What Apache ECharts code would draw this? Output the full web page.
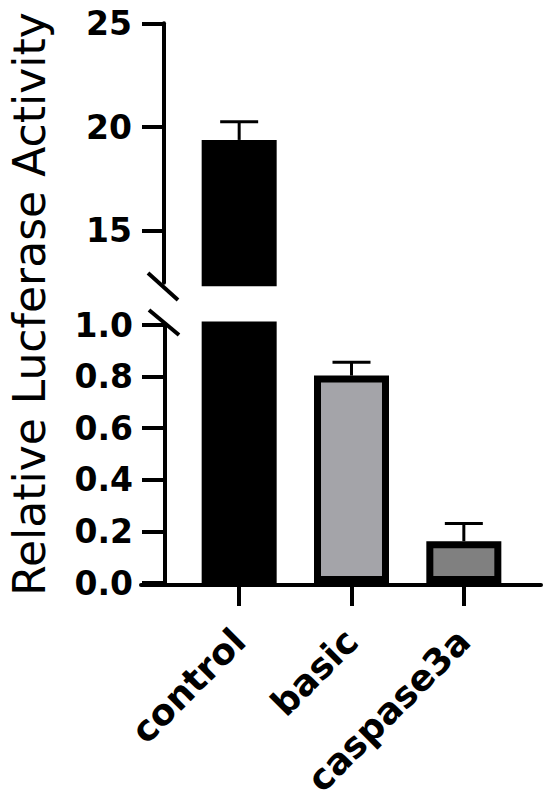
<!DOCTYPE html>
<html>
<head>
<meta charset="utf-8">
<script src="https://cdn.jsdelivr.net/npm/echarts@6/dist/echarts.min.js"></script>
<style>html,body{margin:0;padding:0;background:#fff}#c{width:550px;height:800px}</style>
</head>
<body>
<div id="c"></div>
<script>
const categories = ['control', 'basic', 'caspase3a'];
const means = [19.38, 0.804, 0.162];
const errors = [0.88, 0.052, 0.069];
const barColors = ['#000000', '#a4a4a9', '#808080'];
const topTicks = [15, 20, 25];
const topRange = [12.5, 25];
const bottomRange = [0, 1.0];
const yTitle = 'Relative Lucferase Activity';

const chart = echarts.init(document.getElementById('c'), null, {renderer: 'svg'});
const FONT = 'DejaVu Sans';
const G = {left: 183, width: 337};

const barData = means.map((v, i) => ({value: v, itemStyle: {color: barColors[i]}}));
const errData = means.map((v, i) => [i, v, v + errors[i]]);
const topErr = errData.filter(d => d[1] > topRange[0]);
const botErr = errData.filter(d => d[1] <= bottomRange[1]);

function renderErr(params, api) {
  const x = api.value(0), lo = api.value(1), hi = api.value(2);
  const p0 = api.coord([x, lo]);
  const p1 = api.coord([x, hi]);
  const st = {stroke: '#000', lineWidth: 3};
  return {type: 'group', children: [
    {type: 'line', shape: {x1: p0[0], y1: p0[1], x2: p1[0], y2: p1[1]}, style: st},
    {type: 'line', shape: {x1: p1[0] - 19, y1: p1[1], x2: p1[0] + 19, y2: p1[1]}, style: st}
  ]};
}

const yLabel = {fontFamily: FONT, fontWeight: 'bold', fontSize: 33, color: '#000', margin: 32};
const axisLineStyle = {color: '#000', width: 4};

chart.setOption({
  animation: false,
  backgroundColor: '#fff',
  grid: [
    {left: G.left, width: G.width, top: 23.3, height: 259.4},
    {left: G.left, width: G.width, top: 325, height: 260},
    {left: 141, width: 400, top: 584, height: 1}
  ],
  xAxis: [
    {gridIndex: 0, type: 'category', data: categories, show: false},
    {gridIndex: 1, type: 'category', data: categories,
      axisLine: {show: false},
      axisTick: {show: true, alignWithLabel: true, length: 23, lineStyle: {color: '#000', width: 4}},
      axisLabel: {rotate: 45, interval: 0, fontFamily: FONT, fontWeight: 'bold', fontSize: 36, color: '#000', margin: 52}
    },
    {gridIndex: 2, type: 'value', min: 0, max: 1,
      axisLine: {show: true, lineStyle: axisLineStyle},
      axisTick: {show: false}, axisLabel: {show: false}, splitLine: {show: false}}
  ],
  yAxis: [
    {gridIndex: 0, type: 'value', min: topRange[0], max: topRange[1], offset: 19,
      axisLine: {show: true, lineStyle: axisLineStyle},
      axisTick: {show: true, length: 22, lineStyle: {color: '#000', width: 4}, customValues: topTicks},
      axisLabel: Object.assign({customValues: topTicks}, yLabel),
      splitLine: {show: false}},
    {gridIndex: 1, type: 'value', min: bottomRange[0], max: bottomRange[1], interval: 0.2, offset: 18,
      axisLine: {show: true, lineStyle: axisLineStyle},
      axisTick: {show: true, length: 23, lineStyle: {color: '#000', width: 4}},
      axisLabel: Object.assign({formatter: v => v.toFixed(1)}, yLabel),
      splitLine: {show: false}},
    {gridIndex: 2, type: 'value', show: false}
  ],
  series: [
    {type: 'custom', xAxisIndex: 0, yAxisIndex: 0, renderItem: renderErr, data: topErr, z: 1},
    {type: 'custom', xAxisIndex: 1, yAxisIndex: 1, renderItem: renderErr, data: botErr, z: 1},
    {type: 'bar', xAxisIndex: 0, yAxisIndex: 0, data: barData.map(d => d.value > topRange[0] ? d : '-'),
      barWidth: 75, clip: true, z: 3, itemStyle: {borderColor: '#000', borderWidth: 7}},
    {type: 'bar', xAxisIndex: 1, yAxisIndex: 1, data: barData,
      barWidth: 75, clip: true, z: 3, itemStyle: {borderColor: '#000', borderWidth: 7}}
  ],
  graphic: [
    {type: 'text', x: 29, y: 304, z: 10, rotation: Math.PI / 2,
      style: {text: yTitle, fontFamily: FONT, fontSize: 44, fill: '#000', align: 'center', verticalAlign: 'middle'}},
    {type: 'line', shape: {x1: 148, y1: 273, x2: 178, y2: 300}, style: {stroke: '#000', lineWidth: 4}, z: 10},
    {type: 'line', shape: {x1: 149, y1: 310, x2: 179, y2: 335}, style: {stroke: '#000', lineWidth: 4}, z: 10}
  ]
});
</script>
</body>
</html>
